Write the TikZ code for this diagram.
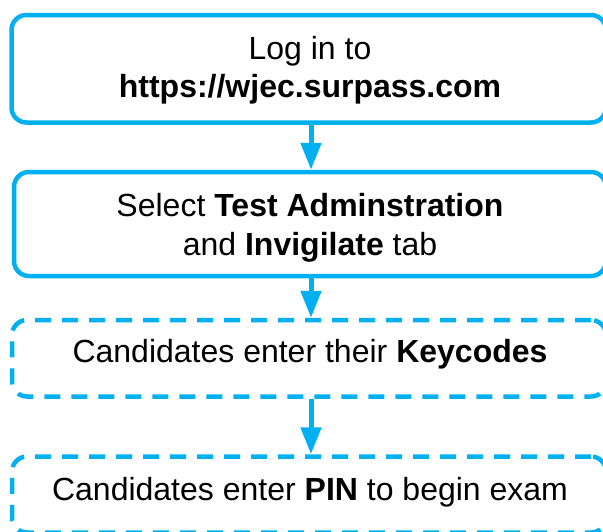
\documentclass[tikz,border=0pt]{standalone}
\usepackage{fontspec}
\setmainfont{Liberation Sans}
\usetikzlibrary{arrows.meta}
\definecolor{skyblue}{RGB}{0,176,240}
\begin{document}
\begin{tikzpicture}[x=1pt,y=-1pt,
  box/.style={draw=skyblue, line width=4.5pt, rounded corners=15pt, rectangle, inner sep=0pt, fill=none},
  dbox/.style={box, dash pattern=on 16pt off 11pt},
  txt/.style={inner sep=0pt, anchor=base, font=\fontsize{32}{38}\selectfont},
  arr/.style={draw=skyblue, line width=5pt, -{Triangle[width=20pt,length=27pt]}}]
\useasboundingbox (0,0) rectangle (603,531);
\node[box, minimum width=594.5pt, minimum height=107.5pt] (b1) at (308.75,68.75) {};
\node[box, minimum width=592pt, minimum height=104pt] (b2) at (310,224) {};
\node[dbox, minimum width=594pt, minimum height=76.5pt] (b3) at (309,358.25) {};
\node[dbox, minimum width=594pt, minimum height=76pt] (b4) at (309,494.5) {};
\node[txt] (t1a) at (310,59) {Log in to};
\node[txt] (t1b) at (310,97.3) {\textbf{https://wjec.surpass.com}};
\node[txt] (t2a) at (310,216.7) {Select \textbf{Test Adminstration}};
\node[txt] (t2b) at (310,255) {and \textbf{Invigilate} tab};
\node[txt] (t3) at (310,362.7) {Candidates enter their \textbf{Keycodes}};
\node[txt] (t4) at (310,500) {Candidates enter \textbf{PIN} to begin exam};
\coordinate (ax) at (311,0);
\draw[arr] (b1.south -| ax) -- (b2.north -| ax);
\draw[arr] (b2.south -| ax) -- (b3.north -| ax);
\draw[arr] (b3.south -| ax) -- (b4.north -| ax);
\end{tikzpicture}
\end{document}
